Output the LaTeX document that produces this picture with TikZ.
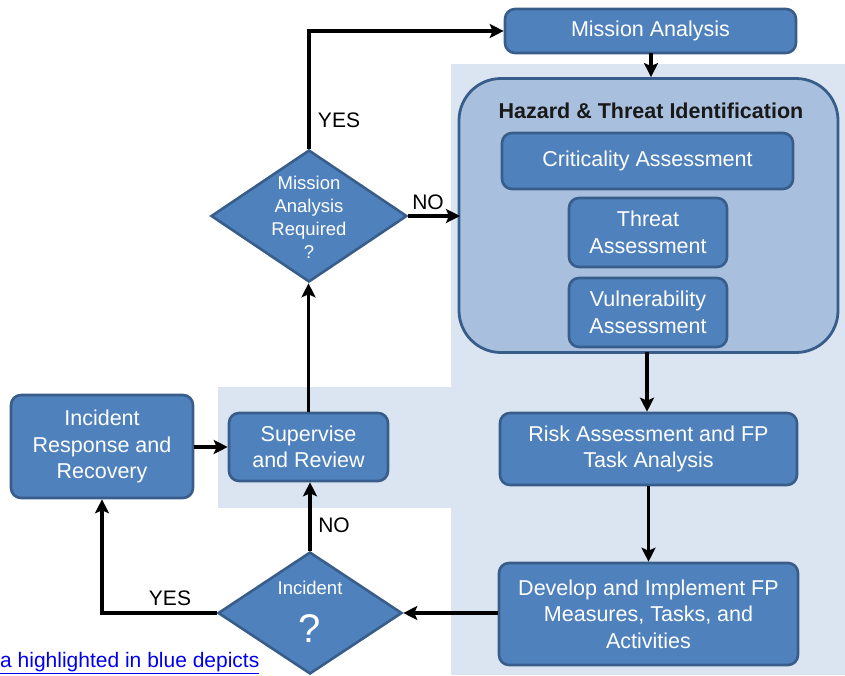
\documentclass[tikz,border=0pt]{standalone}
\usepackage{fontspec}
\setmainfont{Liberation Sans}
\usetikzlibrary{shapes.geometric,arrows.meta}
\definecolor{boxfill}{HTML}{4F81BD}
\definecolor{boxline}{HTML}{385D8A}
\definecolor{hazfill}{HTML}{A8C0DE}
\definecolor{panel}{HTML}{DBE5F2}
\definecolor{linkblue}{HTML}{0000EE}
\tikzset{
  bluebox/.style={draw=boxline, fill=boxfill, line width=2.6pt, rounded corners=10pt,
    text=white, align=center, inner sep=0pt, font=\fontsize{21.5}{26.5}\selectfont},
  hazbox/.style={draw=boxline, fill=hazfill, line width=2.8pt, rounded corners=42pt, inner sep=0pt},
  decision/.style={diamond, draw=boxline, fill=boxfill, line width=2.6pt, inner sep=0pt},
  dtext/.style={text=white, align=center, font=\fontsize{18.5}{23}\selectfont},
  flow/.style={line width=3.3pt, -{Stealth[length=14pt,width=14pt,inset=3pt]}},
  lbl/.style={font=\fontsize{21}{24}\selectfont, text=black},
}
\begin{document}
\begin{tikzpicture}[x=1pt,y=-1pt]
\useasboundingbox (0,0) rectangle (845,675);
% highlighted panels
\fill[panel] (451,64) rectangle (845,675);
\fill[panel] (218,387) rectangle (451,508);
% hazard group
\node[hazbox, minimum width=379pt, minimum height=274pt] (haz) at (648.5,215.5) {};
\node[font=\bfseries\fontsize{21.5}{24}\selectfont, text=black!90] (haztitle) at (651,111) {Hazard \& Threat Identification};
% boxes
\node[bluebox, minimum width=291pt, minimum height=44pt] (ma) at (650.5,31) {Mission Analysis};
\node[bluebox, minimum width=291pt, minimum height=56pt] (crit) at (647.5,161) {Criticality Assessment};
\node[bluebox, minimum width=158pt, minimum height=69pt] (threat) at (648,232.5) {Threat\\Assessment};
\node[bluebox, minimum width=158pt, minimum height=69pt] (vuln) at (648,312.5) {Vulnerability\\Assessment};
\node[bluebox, minimum width=297pt, minimum height=72pt] (risk) at (648.5,449) {Risk Assessment and FP\\Task Analysis};
\node[bluebox, minimum width=299pt, minimum height=102pt] (dev) at (648.5,614) {Develop and Implement FP\\Measures, Tasks, and\\Activities};
\node[bluebox, minimum width=159pt, minimum height=68pt] (sup) at (308.5,447) {Supervise\\and Review};
\node[bluebox, minimum width=182pt, minimum height=103pt] (irr) at (102,446.5) {Incident\\Response and\\Recovery};
% decisions
\node[decision, minimum width=196pt, minimum height=132pt] (mar) at (309,216) {};
\node[dtext] (martext) at (309,217) {Mission\\Analysis\\Required\\?};
\node[decision, minimum width=184pt, minimum height=122pt] (inc) at (310,613) {};
\node[dtext] (inctext) at (310,588) {Incident};
\node[text=white, font=\fontsize{40}{44}\selectfont] (incq) at (310,629) {?};
% connectors
\coordinate (topturn) at (mar.north |- ma.west);
\draw[flow] (mar.north) -- (topturn) -- (ma.west);
\coordinate (mas) at (651,53);
\draw[flow] (mas) -- (mas |- haz.north);
\coordinate (hazout) at (647,352);
\draw[flow] (hazout) -- (hazout |- risk.north);
\draw[flow] (risk.south) -- (dev.north);
\draw[flow] (dev.west |- inc.east) -- (inc.east);
\coordinate (yesturn) at (irr.south |- inc.west);
\draw[flow] (inc.west) -- (yesturn) -- (irr.south);
\draw[flow] (inc.north) -- (inc.north |- sup.south);
\draw[flow] (irr.east |- sup.west) -- (sup.west);
\draw[flow] (sup.north) -- (sup.north |- mar.south);
\coordinate (noend) at (460,216);
\draw[flow] (mar.east) -- (noend);
% labels
\node[lbl] (yes1) at (339,120) {YES};
\node[lbl] (no1) at (428,202) {NO};
\node[lbl] (yes2) at (170,598) {YES};
\node[lbl] (no2) at (334,525) {NO};
% link text
\node[anchor=base west, inner sep=0pt, text=linkblue, font=\fontsize{21}{24}\selectfont] (link) at (0,667) {\underline{a highlighted in blue depicts}};
\end{tikzpicture}
\end{document}
